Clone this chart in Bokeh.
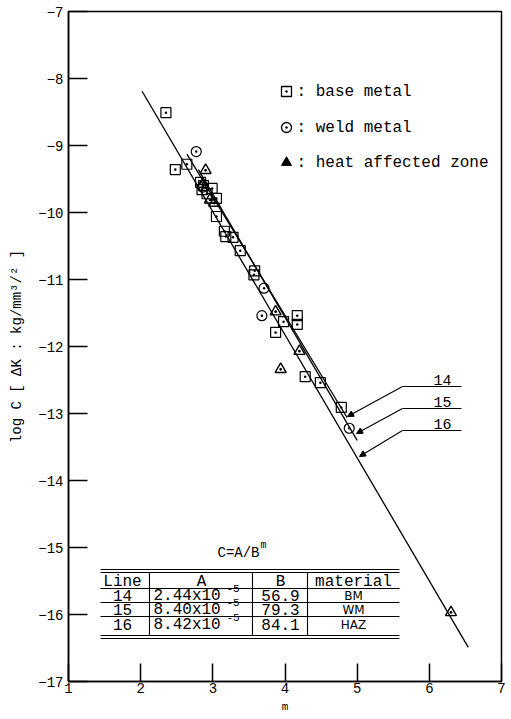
from bokeh.plotting import figure
from bokeh.models import Range1d, ColumnDataSource, Arrow, NormalHead, FixedTicker
from bokeh.core.properties import value
from bokeh.embed import file_html
from bokeh.resources import INLINE

# ---------------- data ----------------
x_ticks = [1, 2, 3, 4, 5, 6, 7]
y_ticks = [-17, -16, -15, -14, -13, -12, -11, -10, -9, -8, -7]

# base metal (squares)
bm_m = [2.35, 2.48, 2.64, 2.83, 2.87, 2.85, 2.92, 2.99, 3.05, 3.05, 3.16, 3.18,
        3.28, 3.38, 3.58, 3.57, 3.98, 3.87, 4.17, 4.17, 4.28, 4.49, 4.78]
bm_c = [-8.51, -9.36, -9.28, -9.55, -9.60, -9.66, -9.72, -9.64, -9.79, -10.06, -10.28, -10.36,
        -10.37, -10.57, -10.87, -10.93, -11.63, -11.79, -11.54, -11.67, -12.45, -12.54, -12.91]
# weld metal (circles)
wm_m = [2.77, 2.86, 3.71, 3.68, 4.89]
wm_c = [-9.09, -9.62, -11.13, -11.54, -13.22]
# heat affected zone (triangles)
haz_m = [2.90, 2.86, 2.96, 3.02, 3.87, 4.20, 3.94, 6.30]
haz_c = [-9.37, -9.58, -9.81, -9.86, -11.48, -12.07, -12.34, -15.97]

# fitted lines 14, 15, 16 (end points)
line_ids = ["14", "15", "16"]
line_m0 = [2.64, 2.80, 2.02]
line_c0 = [-9.13, -9.36, -8.19]
line_m1 = [4.86, 5.00, 6.54]
line_c1 = [-13.06, -13.40, -16.49]

# table
tbl_header = ["Line", "A", "B", "material"]
tbl_a_mant = ["2.44", "8.40", "8.42"]
tbl_a_exp = ["-5", "-5", "-5"]
tbl_b = ["56.9", "79.3", "84.1"]
tbl_mat = ["BM", "WM", "HAZ"]

legend_labels = [": base metal", ": weld metal", ": heat affected zone"]

# ---------------- layout helpers (page pixels -> data) ----------------
FL, FR, FT, FB = 69, 502, 12, 682
def dx(px):
    return 1 + (px - FL) * 6.0 / (FR - FL)
def dy(py):
    return -7 - (py - FT) * 10.0 / (FB - FT)

MONO = "Liberation Mono"

p = figure(width=506, height=716, x_range=Range1d(1, 7), y_range=Range1d(-17, -7),
           output_backend="svg", toolbar_location=None,
           min_border_left=68, min_border_right=5, min_border_top=11,
           min_border_bottom=35)
p.background_fill_color = "white"
p.border_fill_color = "white"
p.outline_line_color = "black"
p.outline_line_width = 1.5
p.xgrid.visible = False
p.ygrid.visible = False

for ax, ticks, tin in ((p.xaxis, x_ticks, 18), (p.yaxis, y_ticks, 19)):
    ax.ticker = FixedTicker(ticks=ticks)
    ax.major_tick_in = tin
    ax.major_tick_out = 0
    ax.minor_tick_in = 0
    ax.minor_tick_out = 0
    ax.axis_line_width = 1.5
    ax.major_tick_line_width = 1.5
    ax.major_label_text_font = MONO
    ax.major_label_text_font_size = "14px"
    ax.major_label_text_color = "black"
    ax.axis_label_text_font = MONO
    ax.axis_label_text_font_style = "normal"
    ax.axis_label_text_color = "black"

p.xaxis.axis_label = "m"
p.xaxis.axis_label_text_font_size = "11px"
p.xaxis.major_label_standoff = 1
p.xaxis.axis_label_standoff = 5
p.yaxis.axis_label = "log C [ ΔK : kg/mm³/² ]"
p.yaxis.axis_label_text_font_size = "14px"
p.yaxis.major_label_standoff = 5
p.yaxis.axis_label_standoff = 10

# fitted lines
p.segment(x0=line_m0, y0=line_c0, x1=line_m1, y1=line_c1, line_color="black", line_width=1.3)

# data points
p.scatter(bm_m, bm_c, marker="square_dot", size=10, line_color="black", fill_color=None, line_width=1.2)
p.scatter(wm_m, wm_c, marker="circle_dot", size=10, line_color="black", fill_color=None, line_width=1.2)
p.scatter(haz_m, haz_c, marker="triangle_dot", size=11, line_color="black", fill_color=None, line_width=1.4)

# legend (manual)
leg_py = [92, 128, 163]
leg_x = dx(287)
p.scatter([leg_x], [dy(leg_py[0])], marker="square_dot", size=10, line_color="black", fill_color=None, line_width=1.3)
p.scatter([leg_x], [dy(leg_py[1])], marker="circle_dot", size=10, line_color="black", fill_color=None, line_width=1.3)
p.scatter([leg_x], [dy(leg_py[2])], marker="triangle", size=10, line_color="black", fill_color="black", line_width=1.0)
p.text(x=[dx(297)] * 3, y=[dy(v) for v in leg_py], text=legend_labels,
       text_font=value(MONO), text_font_size="16px", text_align="left", text_baseline="middle",
       text_color="black")

# pointers with labels 14 / 15 / 16
ptr_py = [387, 409, 431]
tips = [(348, 417), (357, 434), (360, 457)]
p.segment(x0=[dx(403)] * 3, y0=[dy(v) for v in ptr_py], x1=[dx(462)] * 3, y1=[dy(v) for v in ptr_py],
          line_color="black", line_width=1.2)
arr_src = ColumnDataSource(dict(
    xs=[dx(403)] * 3, ys=[dy(v) for v in ptr_py],
    xe=[dx(t[0]) for t in tips], ye=[dy(t[1]) for t in tips]))
p.add_layout(Arrow(end=NormalHead(size=6, fill_color="black", line_color="black", line_width=1),
                   x_start="xs", y_start="ys", x_end="xe", y_end="ye", source=arr_src,
                   line_color="black", line_width=1.1))
p.text(x=[dx(443)] * 3, y=[dy(v - 2) for v in ptr_py], text=line_ids,
       text_font=value(MONO), text_font_size="15px", text_align="center", text_baseline="bottom",
       text_color="black")

# formula title
p.text(x=[dx(239)], y=[dy(553)], text=["C=A/B"], text_font=value(MONO), text_font_size="14px",
       text_align="center", text_baseline="middle", text_color="black")
p.text(x=[dx(261)], y=[dy(546)], text=["m"], text_font=value(MONO), text_font_size="10px",
       text_align="left", text_baseline="middle", text_color="black")

# table lines
TL, TR = 101, 400
h_lines = [570, 573, 589, 603, 617, 636, 639]
p.segment(x0=[dx(TL)] * len(h_lines), y0=[dy(v) for v in h_lines],
          x1=[dx(TR)] * len(h_lines), y1=[dy(v) for v in h_lines], line_color="black", line_width=1.1)
v_lines = [150, 253, 308]
p.segment(x0=[dx(v) for v in v_lines], y0=[dy(573)] * 3, x1=[dx(v) for v in v_lines], y1=[dy(636)] * 3,
          line_color="black", line_width=1.1)

col_cx = [123, 202, 281, 354]
row_py = [596, 610, 625]
p.text(x=[dx(c) for c in col_cx], y=[dy(582)] * 4, text=tbl_header, text_font=value(MONO),
       text_font_size="16px", text_align="center", text_baseline="middle", text_color="black")
p.text(x=[dx(col_cx[0])] * 3, y=[dy(r) for r in row_py], text=line_ids, text_font=value(MONO),
       text_font_size="16px", text_align="center", text_baseline="middle", text_color="black")
p.text(x=[dx(154)] * 3, y=[dy(r) for r in row_py], text=[m + "x10" for m in tbl_a_mant],
       text_font=value(MONO), text_font_size="16px", text_align="left", text_baseline="middle",
       text_color="black")
p.text(x=[dx(227)] * 3, y=[dy(r - 7) for r in row_py], text=tbl_a_exp,
       text_font=value(MONO), text_font_size="11px", text_align="left", text_baseline="middle",
       text_color="black")
p.text(x=[dx(col_cx[2])] * 3, y=[dy(r) for r in row_py], text=tbl_b, text_font=value(MONO),
       text_font_size="16px", text_align="center", text_baseline="middle", text_color="black")
p.text(x=[dx(col_cx[3])] * 3, y=[dy(r) for r in row_py], text=tbl_mat, text_font=value("DejaVu Sans"),
       text_font_size="12px", text_align="center", text_baseline="middle", text_color="black")

open("out.html", "w").write(file_html(p, INLINE))
